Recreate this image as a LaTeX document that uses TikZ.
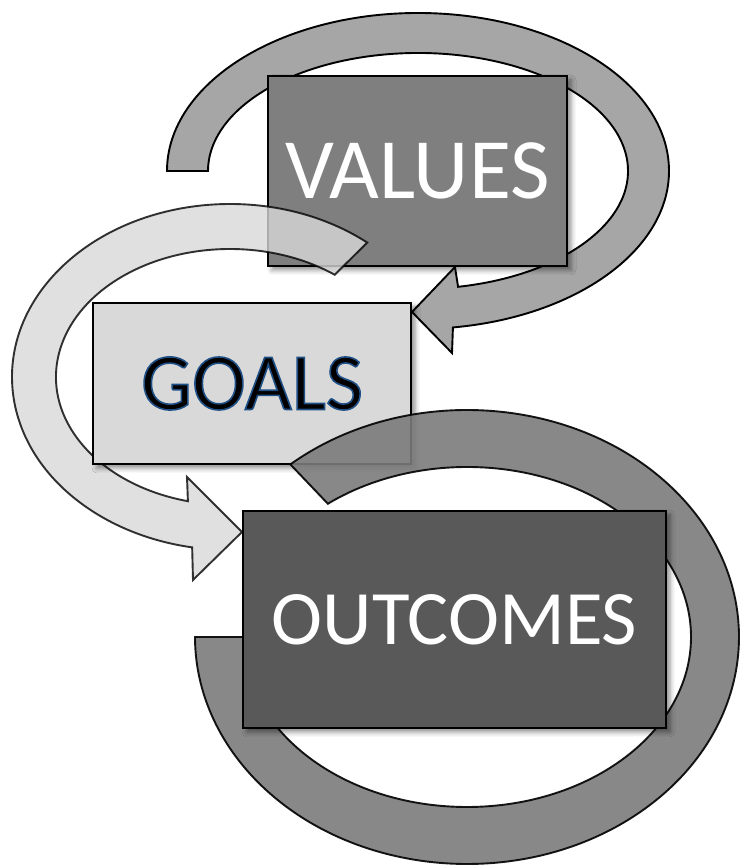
\documentclass[tikz,border=0pt]{standalone}
\usepackage{fontspec}
\setmainfont{Carlito}
\usetikzlibrary{calc,shadows.blur}
\definecolor{valfill}{HTML}{7F7F7F}
\definecolor{goalfill}{HTML}{D9D9D9}
\definecolor{outfill}{HTML}{595959}
\definecolor{loopa}{HTML}{A6A6A6}
\definecolor{loopb}{HTML}{D8D8D8}
\definecolor{loopc}{HTML}{7B7B7B}
% black letters with a thin blue rim
\newcommand\rimtext[1]{\special{pdf:literal 0.12 0.31 0.52 RG 1.6 w 2 Tr}#1\special{pdf:literal 0 Tr}}

\begin{document}
\begin{tikzpicture}[
  x=1pt,y=1pt,
  box/.style={draw=black,line width=1.2pt,inner sep=0pt,
    blur shadow={shadow xshift=4pt,shadow yshift=-4pt,shadow blur radius=5pt,shadow opacity=45}},
  loop/.style={draw=black,line width=1.9pt,line join=miter},
  word/.style={font=\fontsize{#1}{90}\selectfont}
]
\useasboundingbox (0,0) rectangle (740,865);
% centres of the three loops
\coordinate (c1) at (418,694);
\coordinate (c2) at (230,488);
\coordinate (c3) at (467,228);

% loop round VALUES
\draw[loop,fill=loopa] ($(c1)+(180:251 and 158)$) arc[start angle=180,end angle=-82,x radius=251,y radius=158]
  -- (452,512) -- (412,553) -- (455,598)
  -- ($(c1)+(-79:210 and 118)$) arc[start angle=-79,end angle=180,x radius=210,y radius=118] -- cycle;
\node[box,fill=valfill,minimum width=299,minimum height=190,text=white,word=86] (values) at (417.5,694) {VALUES};

% loop round GOALS
\draw[loop,fill=loopb,opacity=.8] ($(c2)+(51:218 and 173)$) arc[start angle=51,end angle=260,x radius=218,y radius=173]
  -- (193,285) -- (242,333) -- (187,388)
  -- ($(c2)+(256:174 and 128)$) arc[start angle=256,end angle=53,x radius=174,y radius=128] -- cycle;
\node[box,fill=goalfill,minimum width=318,minimum height=161,word=81] (goals) at (252,481.5) {\rimtext{GOALS}};

% loop round OUTCOMES
\draw[loop,fill=loopc,opacity=.9] ($(c3)+(130.5:272 and 227)$) arc[start angle=130.5,end angle=-180,x radius=272,y radius=227]
  -- ($(c3)+(180:224 and 170)$) arc[start angle=-180,end angle=128.4,x radius=224,y radius=170] -- cycle;
\node[box,fill=outfill,minimum width=423,minimum height=217,text=white,word=77] (outcomes) at (454.5,245.5) {OUTCOMES};
\end{tikzpicture}
\end{document}
